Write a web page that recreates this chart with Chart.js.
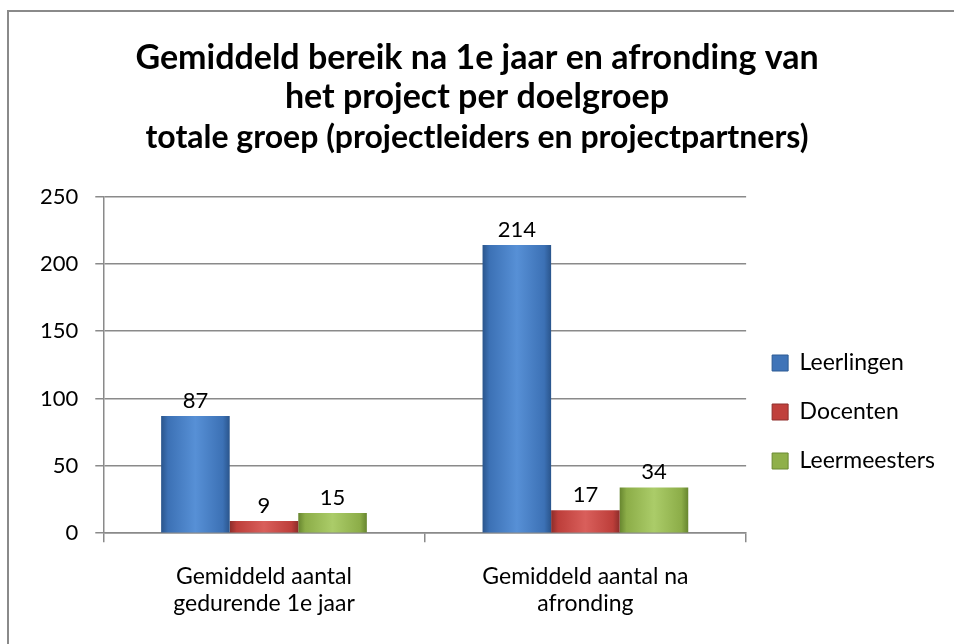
<!DOCTYPE html>
<html>
<head>
<meta charset="utf-8">
<script src="https://cdn.jsdelivr.net/npm/chart.js@4"></script>
<style>
  body { margin: 0; background: #fff; overflow: hidden; }
  #frame { position: absolute; left: 7px; top: 10px; width: 1000px; height: 700px; border-left: 2px solid #8a8a8a; border-top: 2px solid #8a8a8a; }
  #chart { position: absolute; left: 0; top: 0; }
</style>
</head>
<body>
<div id="frame"></div>
<canvas id="chart" width="954" height="644"></canvas>
<script>
// categories and series
const categories = [['Gemiddeld aantal', 'gedurende 1e jaar'], ['Gemiddeld aantal na', 'afronding']];
const leerlingen = [87, 214];
const docenten = [9, 17];
const leermeesters = [15, 34];
const seriesNames = ['Leerlingen', 'Docenten', 'Leermeesters'];
const yTicks = [0, 50, 100, 150, 200, 250];

const FONT = 'Lato, "Open Sans", sans-serif';
const CAT_PCT = 0.64;

// horizontal gradient per bar, positioned from the x scale
function barFill(dark, mid, light) {
    return function(ctx) {
        const chart = ctx.chart;
        const xs = chart.scales && chart.scales.x;
        if (!xs || ctx.dataIndex === undefined || !xs.width) return mid;
        const n = chart.data.labels.length;
        const nd = chart.data.datasets.length;
        const barW = xs.width / n * CAT_PCT / nd;
        const center = xs.getPixelForValue(ctx.dataIndex) + (ctx.datasetIndex - (nd - 1) / 2) * barW;
        const x0 = center - barW / 2;
        const g = chart.ctx.createLinearGradient(x0, 0, x0 + barW, 0);
        g.addColorStop(0, dark);
        g.addColorStop(0.1, mid);
        g.addColorStop(0.5, light);
        g.addColorStop(0.9, mid);
        g.addColorStop(1, dark);
        return g;
    };
}

// value labels above each bar
const valueLabels = {
    id: 'valueLabels',
    afterDatasetsDraw(chart) {
        const c = chart.ctx;
        c.save();
        c.font = '22px ' + FONT;
        c.fillStyle = '#000';
        c.textAlign = 'center';
        c.textBaseline = 'bottom';
        chart.data.datasets.forEach((ds, i) => {
            chart.getDatasetMeta(i).data.forEach((bar, j) => {
                c.fillText(ds.data[j], bar.x, bar.y - 4);
            });
        });
        c.restore();
    }
};

const legendFill = ['#3f74b8', '#c0403c', '#8fb04a'];
const legendEdge = ['#2c5a94', '#8f2f2c', '#6b8a32'];

new Chart(document.getElementById('chart'), {
    type: 'bar',
    data: {
        labels: categories,
        datasets: [
            { label: seriesNames[0], data: leerlingen, backgroundColor: barFill('#2a558c', '#3c71b5', '#5790d6') },
            { label: seriesNames[1], data: docenten, backgroundColor: barFill('#8c2d2a', '#bd3e3a', '#d95f5b') },
            { label: seriesNames[2], data: leermeesters, backgroundColor: barFill('#67862f', '#8cad48', '#abcc69') }
        ]
    },
    options: {
        responsive: false,
        animation: false,
        categoryPercentage: CAT_PCT,
        barPercentage: 1.0,
        layout: { padding: { left: 9, right: 9, top: 38, bottom: 6 } },
        plugins: {
            title: {
                display: true,
                text: ['Gemiddeld bereik na 1e jaar en afronding van', 'het project per doelgroep'],
                color: '#000',
                font: { family: FONT, size: 34, weight: 'bold', lineHeight: 1.15 },
                padding: { top: 0, bottom: 0 }
            },
            subtitle: {
                display: true,
                text: 'totale groep (projectleiders en projectpartners)',
                color: '#000',
                font: { family: FONT, size: 32, weight: 'bold', lineHeight: 1.2 },
                padding: { top: 2, bottom: 40 }
            },
            legend: {
                position: 'right',
                title: {
                    display: true,
                    text: ' ',
                    font: { size: 10 },
                    padding: { top: 0, bottom: 136 }
                },
                labels: {
                    color: '#000',
                    font: { family: FONT, size: 23 },
                    boxWidth: 16,
                    boxHeight: 16,
                    padding: 26,
                    generateLabels(chart) {
                        return chart.data.datasets.map((ds, i) => ({
                            text: ds.label,
                            fillStyle: legendFill[i],
                            strokeStyle: legendEdge[i],
                            lineWidth: 1,
                            datasetIndex: i,
                            fontColor: '#000'
                        }));
                    }
                }
            },
            tooltip: { enabled: false }
        },
        scales: {
            x: {
                grid: { offset: true, drawOnChartArea: false, drawTicks: true, tickLength: 9, color: '#8a8a8a', lineWidth: 1.5 },
                border: { color: '#8a8a8a', width: 1.5 },
                ticks: { color: '#000', font: { family: FONT, size: 23, lineHeight: 1.17 }, padding: 21 }
            },
            y: {
                min: 0,
                max: 250,
                afterBuildTicks(axis) { axis.ticks = yTicks.map(v => ({ value: v })); },
                afterFit(axis) { axis.width += 14; },
                grid: { color: '#8a8a8a', lineWidth: 1.5, tickLength: 8 },
                border: { color: '#8a8a8a', width: 1.5 },
                ticks: { color: '#000', font: { family: FONT, size: 22 }, padding: 17 }
            }
        }
    },
    plugins: [valueLabels]
});
</script>
</body>
</html>
